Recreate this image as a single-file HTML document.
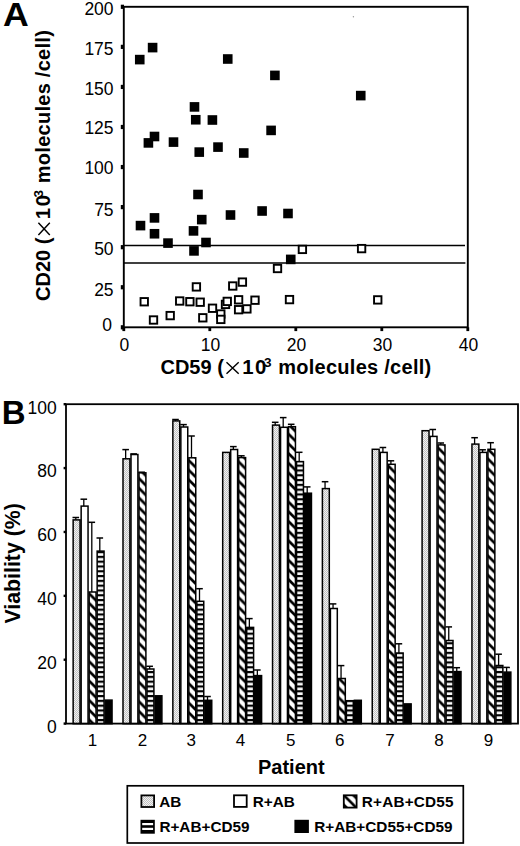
<!DOCTYPE html>
<html><head><meta charset="utf-8"><style>
html,body{margin:0;padding:0;background:#fff;}
svg{display:block;}
text{font-family:"Liberation Sans", sans-serif;fill:#000;}
</style></head><body>
<svg width="520" height="846" viewBox="0 0 520 846">
<defs>
<pattern id="stip" patternUnits="userSpaceOnUse" width="2" height="2">
<rect width="2" height="2" fill="#f2f2f2"/><rect width="1" height="1" fill="#c0c0c0"/><rect x="1" y="1" width="1" height="1" fill="#c0c0c0"/>
</pattern>
<pattern id="diag" patternUnits="userSpaceOnUse" width="9.7" height="9.7">
<rect width="9.7" height="9.7" fill="#fff"/>
<path d="M-4.85,-4.85 L14.55,14.55 M-4.85,4.85 L4.85,14.55 M4.85,-4.85 L14.55,4.85" stroke="#000" stroke-width="2.7"/>
</pattern>
<pattern id="diagL" patternUnits="userSpaceOnUse" width="9.6" height="9.6" x="343.2" y="794.6">
<rect width="9.6" height="9.6" fill="#fff"/>
<path d="M-4.8,-4.8 L14.4,14.4 M-4.8,4.8 L4.8,14.4 M4.8,-4.8 L14.4,4.8" stroke="#000" stroke-width="2.6"/>
</pattern>
<pattern id="hstr" patternUnits="userSpaceOnUse" width="8" height="4.8">
<rect width="8" height="4.8" fill="#000"/>
<rect y="1.2" width="8" height="2.6" fill="#fff"/>
</pattern>
</defs>
<rect width="520" height="846" fill="#fff"/>
<text x="0" y="0" font-size="34" font-weight="bold" transform="translate(3.1,26.4) scale(1.05,1)">A</text>
<rect x="123.8" y="6.8" width="344.0" height="320.5" fill="none" stroke="#000" stroke-width="1.9"/>
<rect x="120.8" y="325.20" width="3.2" height="4.2" fill="#000"/>
<text x="111.9" y="331.00" font-size="17.5" text-anchor="end">0</text>
<rect x="120.8" y="285.14" width="3.2" height="4.2" fill="#000"/>
<text x="113.6" y="296.00" font-size="17.5" text-anchor="end">25</text>
<rect x="120.8" y="245.08" width="3.2" height="4.2" fill="#000"/>
<text x="113.6" y="254.60" font-size="17.5" text-anchor="end">50</text>
<rect x="120.8" y="205.01" width="3.2" height="4.2" fill="#000"/>
<text x="113.6" y="215.60" font-size="17.5" text-anchor="end">75</text>
<rect x="120.8" y="164.95" width="3.2" height="4.2" fill="#000"/>
<text x="113.6" y="174.00" font-size="17.5" text-anchor="end">100</text>
<rect x="120.8" y="124.89" width="3.2" height="4.2" fill="#000"/>
<text x="113.6" y="134.40" font-size="17.5" text-anchor="end">125</text>
<rect x="120.8" y="84.83" width="3.2" height="4.2" fill="#000"/>
<text x="113.6" y="95.20" font-size="17.5" text-anchor="end">150</text>
<rect x="120.8" y="44.76" width="3.2" height="4.2" fill="#000"/>
<text x="113.6" y="55.15" font-size="17.5" text-anchor="end">175</text>
<rect x="120.8" y="4.70" width="3.2" height="4.2" fill="#000"/>
<text x="113.6" y="15.25" font-size="17.5" text-anchor="end">200</text>
<rect x="122.40" y="327.3" width="2.8" height="3.8" fill="#000"/>
<text x="124.40" y="350.5" font-size="17.5" text-anchor="middle">0</text>
<rect x="208.40" y="327.3" width="2.8" height="3.8" fill="#000"/>
<text x="210.40" y="350.5" font-size="17.5" text-anchor="middle">10</text>
<rect x="294.40" y="327.3" width="2.8" height="3.8" fill="#000"/>
<text x="296.40" y="350.5" font-size="17.5" text-anchor="middle">20</text>
<rect x="380.40" y="327.3" width="2.8" height="3.8" fill="#000"/>
<text x="382.40" y="350.5" font-size="17.5" text-anchor="middle">30</text>
<rect x="466.40" y="327.3" width="2.8" height="3.8" fill="#000"/>
<text x="468.40" y="350.5" font-size="17.5" text-anchor="middle">40</text>
<line x1="123.8" y1="245.5" x2="465" y2="245.5" stroke="#000" stroke-width="1.6"/>
<line x1="123.8" y1="263.0" x2="465.4" y2="263.0" stroke="#000" stroke-width="1.6"/>
<rect x="134.95" y="54.80" width="9.6" height="9.6" fill="#000"/>
<rect x="147.80" y="42.80" width="9.6" height="9.6" fill="#000"/>
<rect x="222.95" y="54.20" width="9.6" height="9.6" fill="#000"/>
<rect x="270.10" y="70.60" width="9.6" height="9.6" fill="#000"/>
<rect x="355.95" y="90.80" width="9.6" height="9.6" fill="#000"/>
<rect x="189.70" y="102.10" width="9.6" height="9.6" fill="#000"/>
<rect x="190.95" y="114.95" width="9.6" height="9.6" fill="#000"/>
<rect x="207.60" y="115.20" width="9.6" height="9.6" fill="#000"/>
<rect x="266.30" y="125.60" width="9.6" height="9.6" fill="#000"/>
<rect x="149.70" y="131.70" width="9.6" height="9.6" fill="#000"/>
<rect x="143.60" y="138.10" width="9.6" height="9.6" fill="#000"/>
<rect x="168.70" y="137.30" width="9.6" height="9.6" fill="#000"/>
<rect x="194.45" y="147.30" width="9.6" height="9.6" fill="#000"/>
<rect x="213.20" y="142.30" width="9.6" height="9.6" fill="#000"/>
<rect x="238.95" y="148.20" width="9.6" height="9.6" fill="#000"/>
<rect x="193.20" y="189.70" width="9.6" height="9.6" fill="#000"/>
<rect x="149.70" y="213.10" width="9.6" height="9.6" fill="#000"/>
<rect x="196.95" y="214.80" width="9.6" height="9.6" fill="#000"/>
<rect x="225.70" y="210.20" width="9.6" height="9.6" fill="#000"/>
<rect x="257.30" y="206.20" width="9.6" height="9.6" fill="#000"/>
<rect x="283.20" y="208.70" width="9.6" height="9.6" fill="#000"/>
<rect x="135.70" y="220.80" width="9.6" height="9.6" fill="#000"/>
<rect x="149.70" y="228.95" width="9.6" height="9.6" fill="#000"/>
<rect x="163.20" y="238.30" width="9.6" height="9.6" fill="#000"/>
<rect x="188.70" y="226.10" width="9.6" height="9.6" fill="#000"/>
<rect x="201.20" y="237.70" width="9.6" height="9.6" fill="#000"/>
<rect x="189.20" y="246.10" width="9.6" height="9.6" fill="#000"/>
<rect x="285.95" y="254.60" width="9.6" height="9.6" fill="#000"/>
<rect x="192.70" y="283.20" width="7.4" height="7.4" fill="#fff" stroke="#000" stroke-width="1.9"/>
<rect x="229.05" y="282.30" width="7.4" height="7.4" fill="#fff" stroke="#000" stroke-width="1.9"/>
<rect x="238.70" y="278.40" width="7.4" height="7.4" fill="#fff" stroke="#000" stroke-width="1.9"/>
<rect x="298.70" y="245.70" width="7.4" height="7.4" fill="#fff" stroke="#000" stroke-width="1.9"/>
<rect x="357.90" y="244.90" width="7.4" height="7.4" fill="#fff" stroke="#000" stroke-width="1.9"/>
<rect x="273.80" y="264.80" width="7.4" height="7.4" fill="#fff" stroke="#000" stroke-width="1.9"/>
<rect x="140.55" y="298.05" width="7.4" height="7.4" fill="#fff" stroke="#000" stroke-width="1.9"/>
<rect x="149.80" y="316.30" width="7.4" height="7.4" fill="#fff" stroke="#000" stroke-width="1.9"/>
<rect x="166.50" y="311.90" width="7.4" height="7.4" fill="#fff" stroke="#000" stroke-width="1.9"/>
<rect x="176.00" y="297.30" width="7.4" height="7.4" fill="#fff" stroke="#000" stroke-width="1.9"/>
<rect x="186.20" y="298.00" width="7.4" height="7.4" fill="#fff" stroke="#000" stroke-width="1.9"/>
<rect x="196.50" y="298.50" width="7.4" height="7.4" fill="#fff" stroke="#000" stroke-width="1.9"/>
<rect x="208.80" y="304.55" width="7.4" height="7.4" fill="#fff" stroke="#000" stroke-width="1.9"/>
<rect x="199.10" y="314.10" width="7.4" height="7.4" fill="#fff" stroke="#000" stroke-width="1.9"/>
<rect x="217.10" y="310.30" width="7.4" height="7.4" fill="#fff" stroke="#000" stroke-width="1.9"/>
<rect x="217.10" y="315.70" width="7.4" height="7.4" fill="#fff" stroke="#000" stroke-width="1.9"/>
<rect x="221.80" y="300.70" width="7.4" height="7.4" fill="#fff" stroke="#000" stroke-width="1.9"/>
<rect x="223.55" y="297.70" width="7.4" height="7.4" fill="#fff" stroke="#000" stroke-width="1.9"/>
<rect x="234.90" y="296.10" width="7.4" height="7.4" fill="#fff" stroke="#000" stroke-width="1.9"/>
<rect x="234.90" y="306.00" width="7.4" height="7.4" fill="#fff" stroke="#000" stroke-width="1.9"/>
<rect x="243.20" y="305.20" width="7.4" height="7.4" fill="#fff" stroke="#000" stroke-width="1.9"/>
<rect x="251.30" y="296.50" width="7.4" height="7.4" fill="#fff" stroke="#000" stroke-width="1.9"/>
<rect x="285.80" y="295.90" width="7.4" height="7.4" fill="#fff" stroke="#000" stroke-width="1.9"/>
<rect x="374.05" y="296.20" width="7.4" height="7.4" fill="#fff" stroke="#000" stroke-width="1.9"/>
<g transform="translate(161.3,373.9)"><text x="-0.82" y="0" font-size="20" font-weight="bold">CD59 (</text><path d="M65.2,-11.6 L77.4,-0.2 M77.4,-11.6 L65.2,-0.2" stroke="#000" stroke-width="1.45" fill="none"/><text x="80.9" y="0" font-size="20.4" font-weight="bold" letter-spacing="1.5">10</text><text x="102.6" y="-6.6" font-size="13.6" font-weight="bold">3</text><text x="116.9" y="0" font-size="20" font-weight="bold" letter-spacing="0.27">molecules /cell)</text></g>
<g transform="translate(50,300.1) rotate(-90)"><text x="-0.82" y="0" font-size="20" font-weight="bold">CD20 (</text><path d="M65.2,-11.6 L77.4,-0.2 M77.4,-11.6 L65.2,-0.2" stroke="#000" stroke-width="1.45" fill="none"/><text x="80.9" y="0" font-size="20.4" font-weight="bold" letter-spacing="1.5">10</text><text x="102.6" y="-6.6" font-size="13.6" font-weight="bold">3</text><text x="116.9" y="0" font-size="20" font-weight="bold" letter-spacing="0.27">molecules /cell)</text></g>
<circle cx="353.4" cy="16.8" r="0.7" fill="#999"/>
<text x="1.7" y="424.2" font-size="33" font-weight="bold">B</text>
<line x1="75.80" y1="519.80" x2="75.80" y2="517.50" stroke="#000" stroke-width="1.3"/>
<line x1="72.50" y1="517.50" x2="79.10" y2="517.50" stroke="#000" stroke-width="1.5"/>
<rect x="73.15" y="519.90" width="6.90" height="203.80" fill="url(#stip)" stroke="#000" stroke-width="1.5"/>
<line x1="83.80" y1="506.00" x2="83.80" y2="499.20" stroke="#000" stroke-width="1.3"/>
<line x1="80.50" y1="499.20" x2="87.10" y2="499.20" stroke="#000" stroke-width="1.5"/>
<rect x="81.15" y="506.10" width="6.90" height="217.60" fill="#fff" stroke="#000" stroke-width="1.5"/>
<line x1="91.80" y1="591.90" x2="91.80" y2="522.30" stroke="#000" stroke-width="1.3"/>
<line x1="88.50" y1="522.30" x2="95.10" y2="522.30" stroke="#000" stroke-width="1.5"/>
<rect x="89.15" y="592.00" width="6.90" height="131.70" fill="url(#diag)" stroke="#000" stroke-width="1.5"/>
<line x1="99.80" y1="551.00" x2="99.80" y2="538.00" stroke="#000" stroke-width="1.3"/>
<line x1="96.50" y1="538.00" x2="103.10" y2="538.00" stroke="#000" stroke-width="1.5"/>
<rect x="97.15" y="551.10" width="6.90" height="172.60" fill="url(#hstr)" stroke="#000" stroke-width="1.5"/>
<rect x="105.15" y="700.10" width="6.90" height="23.60" fill="#000" stroke="#000" stroke-width="1.5"/>
<line x1="125.65" y1="458.70" x2="125.65" y2="449.60" stroke="#000" stroke-width="1.3"/>
<line x1="122.35" y1="449.60" x2="128.95" y2="449.60" stroke="#000" stroke-width="1.5"/>
<rect x="123.00" y="458.80" width="6.90" height="264.90" fill="url(#stip)" stroke="#000" stroke-width="1.5"/>
<line x1="133.65" y1="454.40" x2="133.65" y2="453.90" stroke="#000" stroke-width="1.3"/>
<line x1="130.35" y1="453.90" x2="136.95" y2="453.90" stroke="#000" stroke-width="1.5"/>
<rect x="131.00" y="454.50" width="6.90" height="269.20" fill="#fff" stroke="#000" stroke-width="1.5"/>
<line x1="141.65" y1="472.70" x2="141.65" y2="472.20" stroke="#000" stroke-width="1.3"/>
<line x1="138.35" y1="472.20" x2="144.95" y2="472.20" stroke="#000" stroke-width="1.5"/>
<rect x="139.00" y="472.80" width="6.90" height="250.90" fill="url(#diag)" stroke="#000" stroke-width="1.5"/>
<line x1="149.65" y1="668.90" x2="149.65" y2="666.30" stroke="#000" stroke-width="1.3"/>
<line x1="146.35" y1="666.30" x2="152.95" y2="666.30" stroke="#000" stroke-width="1.5"/>
<rect x="147.00" y="669.00" width="6.90" height="54.70" fill="url(#hstr)" stroke="#000" stroke-width="1.5"/>
<rect x="155.00" y="695.80" width="6.90" height="27.90" fill="#000" stroke="#000" stroke-width="1.5"/>
<line x1="175.50" y1="420.80" x2="175.50" y2="419.50" stroke="#000" stroke-width="1.3"/>
<line x1="172.20" y1="419.50" x2="178.80" y2="419.50" stroke="#000" stroke-width="1.5"/>
<rect x="172.85" y="420.90" width="6.90" height="302.80" fill="url(#stip)" stroke="#000" stroke-width="1.5"/>
<line x1="183.50" y1="426.90" x2="183.50" y2="424.60" stroke="#000" stroke-width="1.3"/>
<line x1="180.20" y1="424.60" x2="186.80" y2="424.60" stroke="#000" stroke-width="1.5"/>
<rect x="180.85" y="427.00" width="6.90" height="296.70" fill="#fff" stroke="#000" stroke-width="1.5"/>
<line x1="191.50" y1="457.70" x2="191.50" y2="436.00" stroke="#000" stroke-width="1.3"/>
<line x1="188.20" y1="436.00" x2="194.80" y2="436.00" stroke="#000" stroke-width="1.5"/>
<rect x="188.85" y="457.80" width="6.90" height="265.90" fill="url(#diag)" stroke="#000" stroke-width="1.5"/>
<line x1="199.50" y1="601.20" x2="199.50" y2="588.70" stroke="#000" stroke-width="1.3"/>
<line x1="196.20" y1="588.70" x2="202.80" y2="588.70" stroke="#000" stroke-width="1.5"/>
<rect x="196.85" y="601.30" width="6.90" height="122.40" fill="url(#hstr)" stroke="#000" stroke-width="1.5"/>
<line x1="207.50" y1="700.20" x2="207.50" y2="696.50" stroke="#000" stroke-width="1.3"/>
<line x1="204.20" y1="696.50" x2="210.80" y2="696.50" stroke="#000" stroke-width="1.5"/>
<rect x="204.85" y="700.30" width="6.90" height="23.40" fill="#000" stroke="#000" stroke-width="1.5"/>
<rect x="222.70" y="452.40" width="6.90" height="271.30" fill="url(#stip)" stroke="#000" stroke-width="1.5"/>
<line x1="233.35" y1="449.40" x2="233.35" y2="446.60" stroke="#000" stroke-width="1.3"/>
<line x1="230.05" y1="446.60" x2="236.65" y2="446.60" stroke="#000" stroke-width="1.5"/>
<rect x="230.70" y="449.50" width="6.90" height="274.20" fill="#fff" stroke="#000" stroke-width="1.5"/>
<line x1="241.35" y1="457.50" x2="241.35" y2="455.80" stroke="#000" stroke-width="1.3"/>
<line x1="238.05" y1="455.80" x2="244.65" y2="455.80" stroke="#000" stroke-width="1.5"/>
<rect x="238.70" y="457.60" width="6.90" height="266.10" fill="url(#diag)" stroke="#000" stroke-width="1.5"/>
<line x1="249.35" y1="627.30" x2="249.35" y2="618.60" stroke="#000" stroke-width="1.3"/>
<line x1="246.05" y1="618.60" x2="252.65" y2="618.60" stroke="#000" stroke-width="1.5"/>
<rect x="246.70" y="627.40" width="6.90" height="96.30" fill="url(#hstr)" stroke="#000" stroke-width="1.5"/>
<line x1="257.35" y1="675.50" x2="257.35" y2="670.00" stroke="#000" stroke-width="1.3"/>
<line x1="254.05" y1="670.00" x2="260.65" y2="670.00" stroke="#000" stroke-width="1.5"/>
<rect x="254.70" y="675.60" width="6.90" height="48.10" fill="#000" stroke="#000" stroke-width="1.5"/>
<line x1="275.20" y1="425.00" x2="275.20" y2="422.30" stroke="#000" stroke-width="1.3"/>
<line x1="271.90" y1="422.30" x2="278.50" y2="422.30" stroke="#000" stroke-width="1.5"/>
<rect x="272.55" y="425.10" width="6.90" height="298.60" fill="url(#stip)" stroke="#000" stroke-width="1.5"/>
<line x1="283.20" y1="427.20" x2="283.20" y2="417.60" stroke="#000" stroke-width="1.3"/>
<line x1="279.90" y1="417.60" x2="286.50" y2="417.60" stroke="#000" stroke-width="1.5"/>
<rect x="280.55" y="427.30" width="6.90" height="296.40" fill="#fff" stroke="#000" stroke-width="1.5"/>
<line x1="291.20" y1="426.60" x2="291.20" y2="424.30" stroke="#000" stroke-width="1.3"/>
<line x1="287.90" y1="424.30" x2="294.50" y2="424.30" stroke="#000" stroke-width="1.5"/>
<rect x="288.55" y="426.70" width="6.90" height="297.00" fill="url(#diag)" stroke="#000" stroke-width="1.5"/>
<line x1="299.20" y1="461.50" x2="299.20" y2="452.30" stroke="#000" stroke-width="1.3"/>
<line x1="295.90" y1="452.30" x2="302.50" y2="452.30" stroke="#000" stroke-width="1.5"/>
<rect x="296.55" y="461.60" width="6.90" height="262.10" fill="url(#hstr)" stroke="#000" stroke-width="1.5"/>
<line x1="307.20" y1="493.10" x2="307.20" y2="486.90" stroke="#000" stroke-width="1.3"/>
<line x1="303.90" y1="486.90" x2="310.50" y2="486.90" stroke="#000" stroke-width="1.5"/>
<rect x="304.55" y="493.20" width="6.90" height="230.50" fill="#000" stroke="#000" stroke-width="1.5"/>
<line x1="325.05" y1="488.50" x2="325.05" y2="481.70" stroke="#000" stroke-width="1.3"/>
<line x1="321.75" y1="481.70" x2="328.35" y2="481.70" stroke="#000" stroke-width="1.5"/>
<rect x="322.40" y="488.60" width="6.90" height="235.10" fill="url(#stip)" stroke="#000" stroke-width="1.5"/>
<line x1="333.05" y1="608.40" x2="333.05" y2="603.90" stroke="#000" stroke-width="1.3"/>
<line x1="329.75" y1="603.90" x2="336.35" y2="603.90" stroke="#000" stroke-width="1.5"/>
<rect x="330.40" y="608.50" width="6.90" height="115.20" fill="#fff" stroke="#000" stroke-width="1.5"/>
<line x1="341.05" y1="678.40" x2="341.05" y2="665.60" stroke="#000" stroke-width="1.3"/>
<line x1="337.75" y1="665.60" x2="344.35" y2="665.60" stroke="#000" stroke-width="1.5"/>
<rect x="338.40" y="678.50" width="6.90" height="45.20" fill="url(#diag)" stroke="#000" stroke-width="1.5"/>
<rect x="346.40" y="700.70" width="6.90" height="23.00" fill="url(#hstr)" stroke="#000" stroke-width="1.5"/>
<rect x="354.40" y="700.30" width="6.90" height="23.40" fill="#000" stroke="#000" stroke-width="1.5"/>
<rect x="372.25" y="449.30" width="6.90" height="274.40" fill="url(#stip)" stroke="#000" stroke-width="1.5"/>
<line x1="382.90" y1="452.30" x2="382.90" y2="447.50" stroke="#000" stroke-width="1.3"/>
<line x1="379.60" y1="447.50" x2="386.20" y2="447.50" stroke="#000" stroke-width="1.5"/>
<rect x="380.25" y="452.40" width="6.90" height="271.30" fill="#fff" stroke="#000" stroke-width="1.5"/>
<line x1="390.90" y1="464.20" x2="390.90" y2="460.80" stroke="#000" stroke-width="1.3"/>
<line x1="387.60" y1="460.80" x2="394.20" y2="460.80" stroke="#000" stroke-width="1.5"/>
<rect x="388.25" y="464.30" width="6.90" height="259.40" fill="url(#diag)" stroke="#000" stroke-width="1.5"/>
<line x1="398.90" y1="652.90" x2="398.90" y2="643.80" stroke="#000" stroke-width="1.3"/>
<line x1="395.60" y1="643.80" x2="402.20" y2="643.80" stroke="#000" stroke-width="1.5"/>
<rect x="396.25" y="653.00" width="6.90" height="70.70" fill="url(#hstr)" stroke="#000" stroke-width="1.5"/>
<rect x="404.25" y="703.90" width="6.90" height="19.80" fill="#000" stroke="#000" stroke-width="1.5"/>
<rect x="422.10" y="430.70" width="6.90" height="293.00" fill="url(#stip)" stroke="#000" stroke-width="1.5"/>
<line x1="432.75" y1="436.30" x2="432.75" y2="429.50" stroke="#000" stroke-width="1.3"/>
<line x1="429.45" y1="429.50" x2="436.05" y2="429.50" stroke="#000" stroke-width="1.5"/>
<rect x="430.10" y="436.40" width="6.90" height="287.30" fill="#fff" stroke="#000" stroke-width="1.5"/>
<line x1="440.75" y1="444.80" x2="440.75" y2="443.00" stroke="#000" stroke-width="1.3"/>
<line x1="437.45" y1="443.00" x2="444.05" y2="443.00" stroke="#000" stroke-width="1.5"/>
<rect x="438.10" y="444.90" width="6.90" height="278.80" fill="url(#diag)" stroke="#000" stroke-width="1.5"/>
<line x1="448.75" y1="640.40" x2="448.75" y2="626.90" stroke="#000" stroke-width="1.3"/>
<line x1="445.45" y1="626.90" x2="452.05" y2="626.90" stroke="#000" stroke-width="1.5"/>
<rect x="446.10" y="640.50" width="6.90" height="83.20" fill="url(#hstr)" stroke="#000" stroke-width="1.5"/>
<line x1="456.75" y1="671.50" x2="456.75" y2="667.70" stroke="#000" stroke-width="1.3"/>
<line x1="453.45" y1="667.70" x2="460.05" y2="667.70" stroke="#000" stroke-width="1.5"/>
<rect x="454.10" y="671.60" width="6.90" height="52.10" fill="#000" stroke="#000" stroke-width="1.5"/>
<line x1="474.60" y1="444.00" x2="474.60" y2="437.70" stroke="#000" stroke-width="1.3"/>
<line x1="471.30" y1="437.70" x2="477.90" y2="437.70" stroke="#000" stroke-width="1.5"/>
<rect x="471.95" y="444.10" width="6.90" height="279.60" fill="url(#stip)" stroke="#000" stroke-width="1.5"/>
<line x1="482.60" y1="452.30" x2="482.60" y2="449.80" stroke="#000" stroke-width="1.3"/>
<line x1="479.30" y1="449.80" x2="485.90" y2="449.80" stroke="#000" stroke-width="1.5"/>
<rect x="479.95" y="452.40" width="6.90" height="271.30" fill="#fff" stroke="#000" stroke-width="1.5"/>
<line x1="490.60" y1="449.20" x2="490.60" y2="442.70" stroke="#000" stroke-width="1.3"/>
<line x1="487.30" y1="442.70" x2="493.90" y2="442.70" stroke="#000" stroke-width="1.5"/>
<rect x="487.95" y="449.30" width="6.90" height="274.40" fill="url(#diag)" stroke="#000" stroke-width="1.5"/>
<line x1="498.60" y1="665.40" x2="498.60" y2="654.20" stroke="#000" stroke-width="1.3"/>
<line x1="495.30" y1="654.20" x2="501.90" y2="654.20" stroke="#000" stroke-width="1.5"/>
<rect x="495.95" y="665.50" width="6.90" height="58.20" fill="url(#hstr)" stroke="#000" stroke-width="1.5"/>
<line x1="506.60" y1="672.00" x2="506.60" y2="667.40" stroke="#000" stroke-width="1.3"/>
<line x1="503.30" y1="667.40" x2="509.90" y2="667.40" stroke="#000" stroke-width="1.5"/>
<rect x="503.95" y="672.10" width="6.90" height="51.60" fill="#000" stroke="#000" stroke-width="1.5"/>
<rect x="66.0" y="404.2" width="452.0" height="319.40000000000003" fill="none" stroke="#000" stroke-width="1.8"/>
<rect x="63.6" y="722.40" width="2.6" height="2.4" fill="#000"/>
<text x="56.8" y="732.50" font-size="17.5" text-anchor="end">0</text>
<rect x="63.6" y="658.52" width="2.6" height="2.4" fill="#000"/>
<text x="56.8" y="668.60" font-size="17.5" text-anchor="end">20</text>
<rect x="63.6" y="594.64" width="2.6" height="2.4" fill="#000"/>
<text x="56.8" y="604.90" font-size="17.5" text-anchor="end">40</text>
<rect x="63.6" y="530.76" width="2.6" height="2.4" fill="#000"/>
<text x="56.8" y="540.50" font-size="17.5" text-anchor="end">60</text>
<rect x="63.6" y="466.88" width="2.6" height="2.4" fill="#000"/>
<text x="56.8" y="477.00" font-size="17.5" text-anchor="end">80</text>
<rect x="63.6" y="403.00" width="2.6" height="2.4" fill="#000"/>
<text x="56.8" y="413.70" font-size="17.5" text-anchor="end">100</text>
<text x="92.50" y="745.6" font-size="17" text-anchor="middle">1</text>
<text x="142.50" y="745.6" font-size="17" text-anchor="middle">2</text>
<text x="191.30" y="745.6" font-size="17" text-anchor="middle">3</text>
<text x="240.60" y="745.6" font-size="17" text-anchor="middle">4</text>
<text x="290.80" y="745.6" font-size="17" text-anchor="middle">5</text>
<text x="339.80" y="745.6" font-size="17" text-anchor="middle">6</text>
<text x="389.90" y="745.6" font-size="17" text-anchor="middle">7</text>
<text x="439.00" y="745.6" font-size="17" text-anchor="middle">8</text>
<text x="488.50" y="745.6" font-size="17" text-anchor="middle">9</text>
<text x="291.3" y="774.4" font-size="20" font-weight="bold" text-anchor="middle">Patient</text>
<text transform="translate(19.6,623.5) rotate(-90)" font-size="21.3" font-weight="bold">Viability (%)</text>
<rect x="127.3" y="785.8" width="336" height="57.2" fill="none" stroke="#000" stroke-width="1.7"/>
<rect x="141.40" y="795.40" width="12.70" height="11.60" fill="url(#stip)" stroke="#000" stroke-width="1.8"/>
<rect x="234.00" y="795.30" width="12.70" height="11.60" fill="#fff" stroke="#000" stroke-width="1.8"/>
<rect x="343.80" y="795.30" width="12.80" height="12.30" fill="url(#diagL)" stroke="#000" stroke-width="1.8"/>
<rect x="140.5" y="819.8" width="14.3" height="13.9" fill="#000"/>
<rect x="142.2" y="823.0" width="10.9" height="2.2" fill="#fff"/>
<rect x="142.2" y="827.8" width="10.9" height="2.2" fill="#fff"/>
<rect x="294.4" y="819.8" width="14.5" height="13.2" fill="#000"/>
<text x="159.3" y="806.8" font-size="15.3" font-weight="bold">AB</text>
<text x="252.8" y="806.8" font-size="15.3" font-weight="bold">R+AB</text>
<text x="361.8" y="806.8" font-size="15.3" font-weight="bold" letter-spacing="0.2">R+AB+CD55</text>
<text x="159.4" y="831.8" font-size="15.3" font-weight="bold">R+AB+CD59</text>
<text x="314.3" y="831.8" font-size="15.3" font-weight="bold">R+AB+CD55+CD59</text>
</svg>
</body></html>
